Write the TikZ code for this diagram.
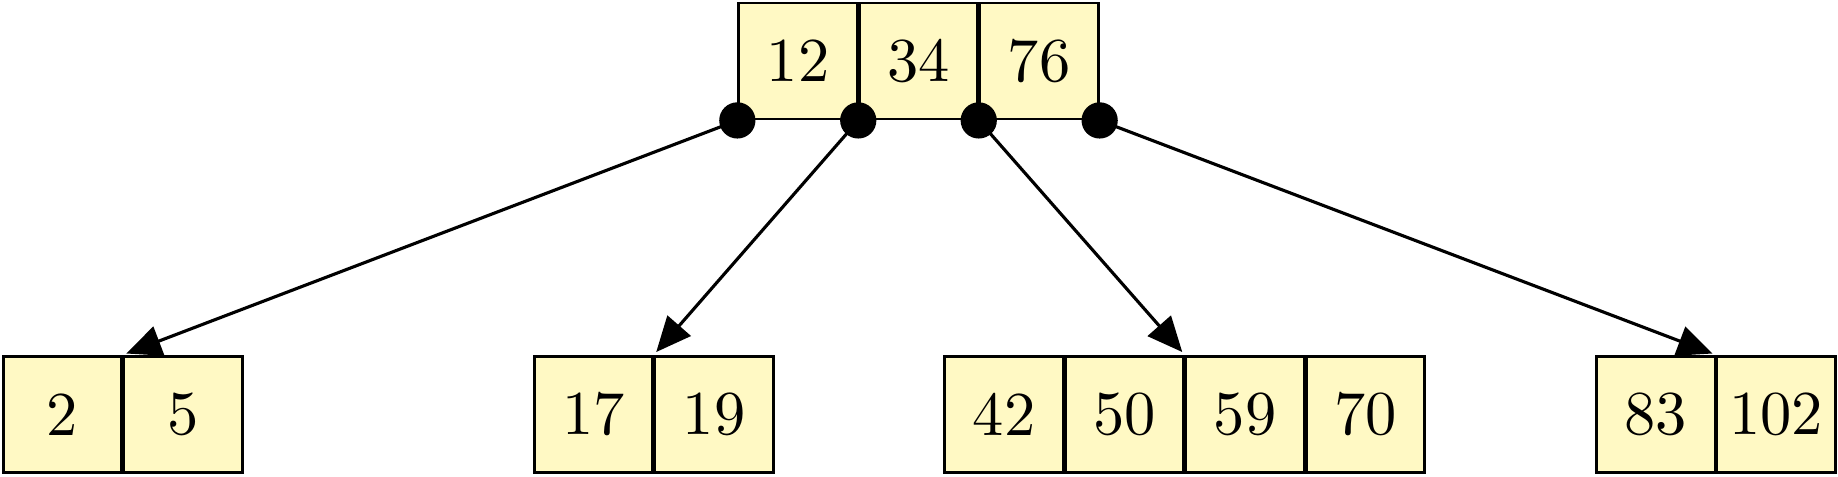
\documentclass[tikz,border=0pt]{standalone}
\usetikzlibrary{arrows.meta,calc}
\definecolor{cellfill}{RGB}{255,249,196}
\tikzset{
  cell/.style={draw=black, fill=cellfill, line width=0.45pt, minimum width=18.96pt, minimum height=18.56pt, inner sep=0pt},
  ptr/.style={line width=0.5pt, shorten >=0.6pt, -{Triangle[length=5.6pt,width=4.9pt]}},
  knob/.style={fill=black, circle, inner sep=0pt, minimum size=5.8pt}
}
\begin{document}
\begin{tikzpicture}[x=0.16pt,y=-0.16pt]
\useasboundingbox (0,0) rectangle (1838,476);
% top node
\node[cell] (t12) at (798,61) {12};
\node[cell] (t34) at (918.5,61) {34};
\node[cell] (t76) at (1039,61) {76};
% bottom nodes
\node[cell] (b2) at (62.5,414.25) {2};
\node[cell] (b5) at (183,414.25) {5};
\node[cell] (b17) at (593.5,414.25) {17};
\node[cell] (b19) at (714,414.25) {19};
\node[cell] (b42) at (1004,414.25) {42};
\node[cell] (b50) at (1124.5,414.25) {50};
\node[cell] (b59) at (1245,414.25) {59};
\node[cell] (b70) at (1365.5,414.25) {70};
\node[cell] (b83) at (1655.75,414.25) {83};
\node[cell] (b102) at (1776.25,414.25) {102};
% pointer origins
\coordinate (p1) at (t12.south west);
\coordinate (p2) at ($(t12.south east)!0.5!(t34.south west)$);
\coordinate (p3) at ($(t34.south east)!0.5!(t76.south west)$);
\coordinate (p4) at (t76.south east);
% targets
\coordinate (q1) at ($(b2.north east)!0.5!(b5.north west)$);
\coordinate (q2) at ($(b17.north east)!0.5!(b19.north west)$);
\coordinate (q3) at ($(b50.north east)!0.5!(b59.north west)$);
\coordinate (q4) at ($(b83.north east)!0.5!(b102.north west)$);
\draw[ptr] (p1) -- (q1);
\draw[ptr] (p2) -- (q2);
\draw[ptr] (p3) -- (q3);
\draw[ptr] (p4) -- (q4);
\node[knob] (k1) at (p1) {};
\node[knob] (k2) at (p2) {};
\node[knob] (k3) at (p3) {};
\node[knob] (k4) at (p4) {};
\end{tikzpicture}
\end{document}
